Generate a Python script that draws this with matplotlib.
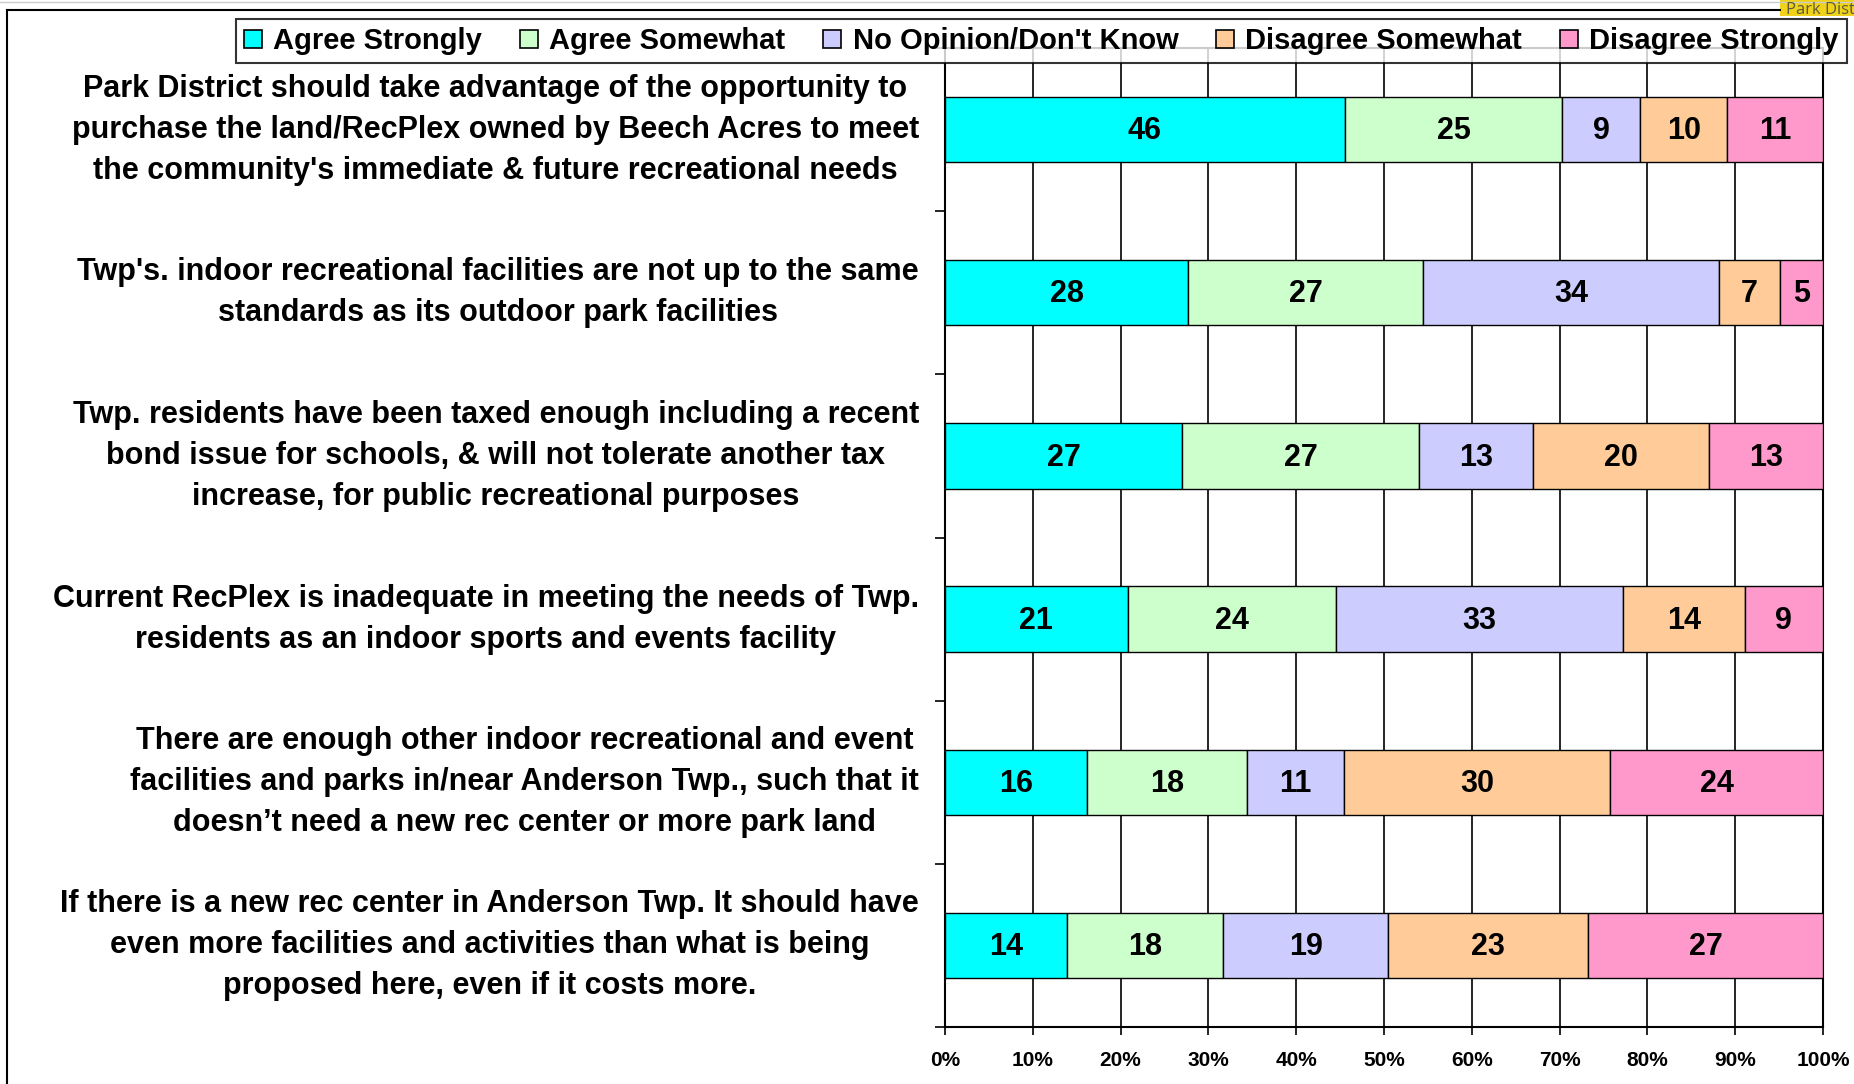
import numpy as np
import matplotlib.pyplot as plt
from matplotlib.lines import Line2D
from matplotlib.patches import Rectangle

plt.rcParams['font.family'] = ['Liberation Sans', 'DejaVu Sans']

# statements (top to bottom)
statements = [
    "Park District should take advantage of the opportunity to\npurchase the land/RecPlex owned by Beech Acres to meet\nthe community's immediate & future recreational needs",
    "Twp's. indoor recreational facilities are not up to the same\nstandards as its outdoor park facilities",
    "Twp. residents have been taxed enough including a recent\nbond issue for schools, & will not tolerate another tax\nincrease, for public recreational purposes",
    "Current RecPlex is inadequate in meeting the needs of Twp.\nresidents as an indoor sports and events facility",
    "There are enough other indoor recreational and event\nfacilities and parks in/near Anderson Twp., such that it\ndoesn\u2019t need a new rec center or more park land",
    "If there is a new rec center in Anderson Twp. It should have\neven more facilities and activities than what is being\nproposed here, even if it costs more.",
]

responses = ["Agree Strongly", "Agree Somewhat", "No Opinion/Don't Know",
             "Disagree Somewhat", "Disagree Strongly"]
colors = ["#00FFFF", "#CCFFCC", "#CCCCFF", "#FFCC99", "#FF99CC"]

agree_strongly = [46, 28, 27, 21, 16, 14]
agree_somewhat = [25, 27, 27, 24, 18, 18]
no_opinion = [9, 34, 13, 33, 11, 19]
disagree_somewhat = [10, 7, 20, 14, 30, 23]
disagree_strongly = [11, 5, 13, 9, 24, 27]

xticks = [0, 10, 20, 30, 40, 50, 60, 70, 80, 90, 100]

data = np.array([agree_strongly, agree_somewhat, no_opinion,
                 disagree_somewhat, disagree_strongly], dtype=float)
# 100% stacked: each row scaled to its own total
pct = data / data.sum(axis=0) * 100

W, H = 1854, 1084
fig = plt.figure(figsize=(W / 100, H / 100), dpi=100)
ax = fig.add_axes([945 / W, 1 - 1027 / H, 878 / W, (1027 - 48) / H])

y = np.arange(len(statements))
left = np.zeros(len(statements))
for i in range(len(responses)):
    ax.barh(y, pct[i], left=left, height=0.4, color=colors[i],
            edgecolor='black', linewidth=1, label=responses[i], zorder=3)
    for j in range(len(statements)):
        ax.text(left[j] + pct[i][j] / 2, y[j] + 0.01, f"{int(data[i][j])}",
                ha='center', va='center', fontsize=22, fontweight='bold', zorder=4)
    left += pct[i]

ax.set_xlim(0, 100)
ax.set_ylim(len(statements) - 0.5, -0.5)
ax.set_xticks(xticks)
ax.set_xticklabels([f"{t}%" for t in xticks], fontsize=15, fontweight='bold')
ax.tick_params(axis='x', length=6, width=1.2, direction='out', pad=11)
ax.set_yticks(np.arange(-0.5, len(statements), 1.0))
ax.set_yticklabels([])
ax.tick_params(axis='y', length=7, width=1.2, direction='out')
ax.xaxis.grid(True, color='black', linewidth=1.2)
ax.set_axisbelow(True)
for s in ax.spines.values():
    s.set_linewidth(1.5)

for j, txt in enumerate(statements):
    ax.text(-0.0296, y[j], txt, transform=ax.get_yaxis_transform(),
            ha='right', va='center', multialignment='center',
            fontsize=22, fontweight='bold', linespacing=1.48)

leg = fig.legend(loc='upper right', bbox_to_anchor=(1847 / W, 1 - 19 / H),
                 borderaxespad=0, ncol=5, frameon=True, fancybox=False,
                 edgecolor='black', handlelength=0.6, handleheight=0.6,
                 handletextpad=0.4, columnspacing=1.3, borderpad=0.28,
                 prop={'size': 21, 'weight': 'bold'})
leg.get_frame().set_linewidth(1.5)
for hnd in leg.legend_handles:
    hnd.set_edgecolor('black')
    hnd.set_linewidth(1.2)

# frame around the figure
fig.add_artist(Line2D([0, 1], [1 - 2 / H, 1 - 2 / H],
                      transform=fig.transFigure, color='#CCCCCC', linewidth=1))
fig.add_artist(Line2D([7 / W, 1780 / W], [1 - 10 / H, 1 - 10 / H],
                      transform=fig.transFigure, color='black', linewidth=1.5))
fig.add_artist(Line2D([7 / W, 7 / W], [1 - 10 / H, 0],
                      transform=fig.transFigure, color='black', linewidth=1.5))

fig.add_artist(Rectangle((1780 / W, 1 - 16 / H), 74 / W, 16 / H,
                         transform=fig.transFigure, facecolor='#F0D21A',
                         edgecolor='none'))
fig.text(1786 / W, 1 - 14 / H, "Park Dist", ha='left', va='baseline',
         fontsize=12, family='Open Sans', color='#5A5A3A')

fig.savefig('out.png', dpi=100)
